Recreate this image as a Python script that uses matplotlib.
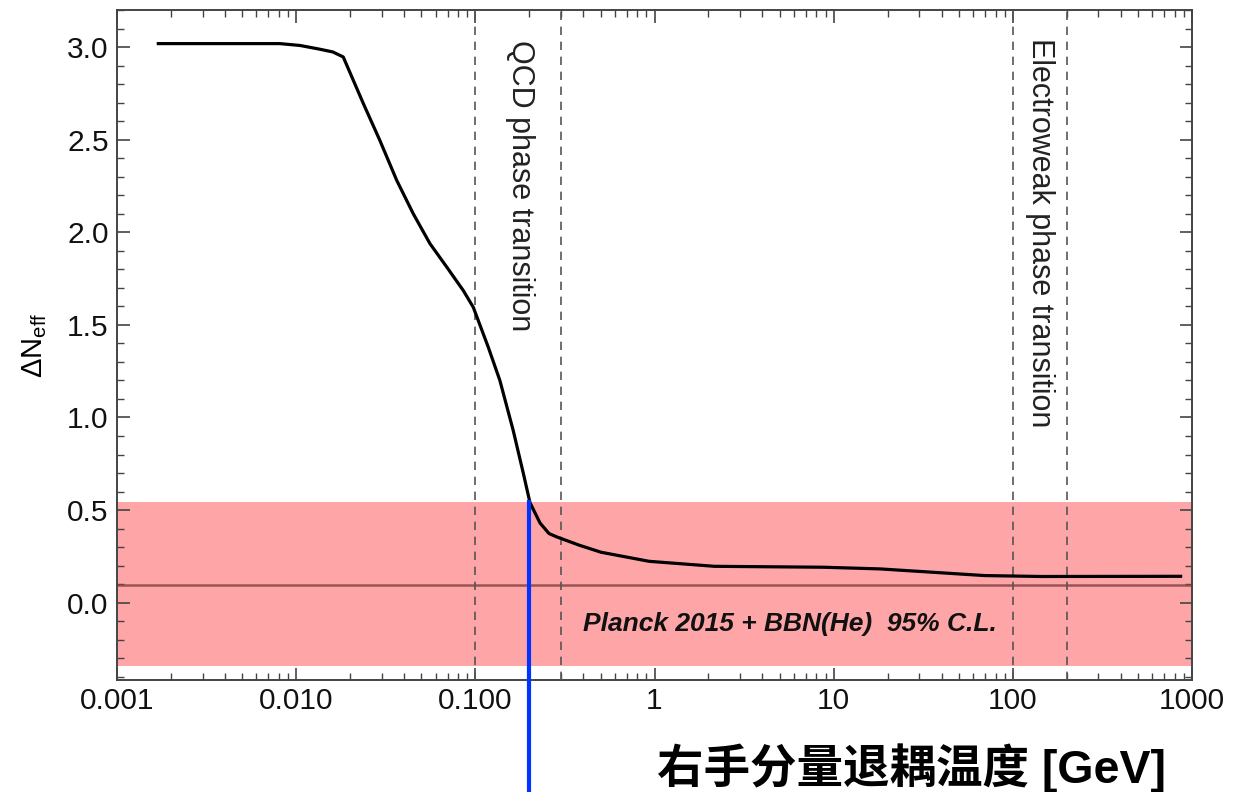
import numpy as np
import matplotlib
matplotlib.use("Agg")
import matplotlib.pyplot as plt
from matplotlib.ticker import FixedLocator, MultipleLocator, LogLocator, NullFormatter

plt.rcParams['font.family'] = ['Liberation Sans', 'Noto Sans CJK SC', 'DejaVu Sans']
plt.rcParams['mathtext.fontset'] = 'custom'
plt.rcParams['mathtext.rm'] = 'Liberation Sans'
plt.rcParams['mathtext.it'] = 'Liberation Sans:italic'

# decoupling temperature [GeV] vs Delta N_eff
temp_gev = [0.0017, 0.0025, 0.0081, 0.0105, 0.0135, 0.0160, 0.0183, 0.0237,
            0.0293, 0.0364, 0.0450, 0.0558, 0.0692, 0.0856, 0.0973, 0.118,
            0.137, 0.1626, 0.185, 0.2017, 0.2295, 0.2576, 0.2844, 0.38,
            0.503, 0.932, 2.16, 8.75, 18.1, 35.5, 69.4, 144, 863]
delta_neff = [3.02, 3.02, 3.02, 3.01, 2.99, 2.975, 2.948, 2.696,
              2.497, 2.281, 2.101, 1.939, 1.813, 1.686, 1.596, 1.38,
              1.20, 0.93, 0.70, 0.54, 0.43, 0.373, 0.355, 0.31,
              0.272, 0.223, 0.196, 0.191, 0.182, 0.164, 0.146, 0.141, 0.142]

# Planck 2015 + BBN(He) 95% C.L. band and central value
band_lo, band_hi = -0.34, 0.543
band_mid = 0.093

qcd_lines = [0.1, 0.3]
ew_lines = [100, 200]
marker_t = 0.2

x_ticks = [0.001, 0.01, 0.1, 1, 10, 100, 1000]
x_tick_labels = ["0.001", "0.010", "0.100", "1", "10", "100", "1000"]
y_ticks = [0.0, 0.5, 1.0, 1.5, 2.0, 2.5, 3.0]

fig = plt.figure(figsize=(12.45, 7.92), dpi=100)
ax = fig.add_axes([0.094, 0.141, 0.8635, 0.846])

ax.set_xscale('log')
ax.set_xlim(0.001, 1000)
ax.set_ylim(-0.42, 3.2)

# band + central line
ax.axhspan(band_lo, band_hi, color='#fea5a8', lw=0, zorder=1)
ax.axhline(band_mid, color='#8a4446', lw=1.8, alpha=0.85, zorder=2)

# phase transition markers
for xv in qcd_lines + ew_lines:
    ax.axvline(xv, color='#555555', lw=1.2, ls=(0, (5, 4)), zorder=3)

# curve
ax.plot(temp_gev, delta_neff, color='black', lw=2.3, zorder=5,
        solid_joinstyle='round')

# blue marker line, runs past the axis to the figure edge
y_at_marker = np.interp(np.log10(marker_t), np.log10(temp_gev), delta_neff)
ax.plot([marker_t, marker_t], [y_at_marker, -1.2], color='#0033ff', lw=3.0,
        clip_on=False, zorder=6, solid_capstyle='butt')

# labels inside the plot
ax.text(0.1775, 3.04, "QCD phase transition", rotation=-90, ha='center',
        va='top', fontsize=22, color='#222222')
ax.text(141, 3.05, "Electroweak phase transition", rotation=-90,
        ha='center', va='top', fontsize=22, color='#222222')
ax.text(5.68, -0.113, "Planck 2015 + BBN(He)  95% C.L.", ha='center',
        va='center', fontsize=19, fontstyle='italic', fontweight='bold',
        color='#111111')

# ticks
ax.xaxis.set_major_locator(FixedLocator(x_ticks))
ax.set_xticklabels(x_tick_labels)
ax.xaxis.set_minor_locator(LogLocator(base=10, subs=np.arange(2, 10)))
ax.xaxis.set_minor_formatter(NullFormatter())
ax.set_yticks(y_ticks)
ax.set_yticklabels(["%.1f" % v for v in y_ticks])
ax.yaxis.set_minor_locator(MultipleLocator(0.1))

ax.tick_params(which='both', direction='in', top=True, right=True,
               colors='#444444', labelcolor='#111111', labelsize=21.5)
ax.tick_params(which='major', length=9, width=1.2)
ax.tick_params(which='minor', length=5, width=1.0)
ax.tick_params(axis='x', which='major', pad=5)
ax.tick_params(axis='y', which='major', pad=6)

for sp in ax.spines.values():
    sp.set_color('#444444')
    sp.set_linewidth(1.4)

ax.set_ylabel(r"$\Delta\mathrm{N}_{\mathrm{eff}}$", fontsize=21)
ax.yaxis.set_label_coords(-0.063, 0.5)
fig.text(0.7325, 0.0115, "右手分量退耦温度 [GeV]", ha='center', va='baseline',
         fontsize=33.5, fontweight='bold')

fig.savefig("out.png", dpi=100)
